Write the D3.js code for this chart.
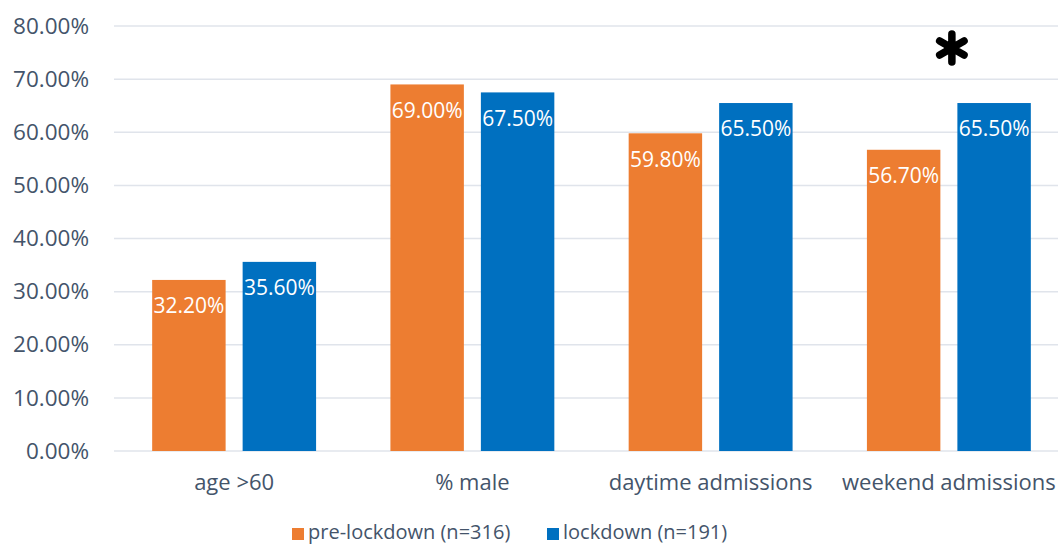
<!DOCTYPE html>
<html>
<head>
<meta charset="utf-8">
<script src="https://cdn.jsdelivr.net/npm/d3@7"></script>
<style>
  body { margin: 0; background: #fff; }
  text { font-family: "Open Sans", sans-serif; }
</style>
</head>
<body>
<div id="chart"></div>
<script>
const categories = ["age >60", "% male", "daytime admissions", "weekend admissions"];
const seriesNames = ["pre-lockdown (n=316)", "lockdown (n=191)"];
const preLockdown = [0.322, 0.69, 0.598, 0.567];
const lockdown = [0.356, 0.675, 0.655, 0.655];
const yTicks = [0, 0.1, 0.2, 0.3, 0.4, 0.5, 0.6, 0.7, 0.8];
const significant = ["weekend admissions"];

const colors = ["#ED7D31", "#0070C0"];
const textColor = "#44546A";
const W = 1058, H = 547;

const svg = d3.select("#chart").append("svg")
    .attr("width", W)
    .attr("height", H);

const x = d3.scaleBand()
    .domain(categories)
    .range([115, 1068])
    .paddingInner(0.312)
    .paddingOuter(0.156);

const xInner = d3.scaleBand()
    .domain(seriesNames)
    .range([0, x.bandwidth()])
    .paddingInner(0.188);

const y = d3.scaleLinear().domain([0, 0.8]).range([451, 26]);

// gridlines
svg.append("g")
    .selectAll("line")
    .data(yTicks)
    .join("line")
    .attr("x1", 114)
    .attr("x2", W)
    .attr("y1", d => y(d))
    .attr("y2", d => y(d))
    .attr("stroke", "#e0e4eb")
    .attr("stroke-width", 1.5);

// y axis labels
const yAxis = d3.axisLeft(y).tickValues(yTicks).tickFormat(d3.format(".2%")).tickSize(0).tickPadding(0);
svg.append("g")
    .attr("transform", "translate(89,0)")
    .call(yAxis)
    .call(g => g.select(".domain").remove())
    .selectAll("text")
    .attr("fill", textColor)
    .style("font-size", "22.5px")
    .style("font-family", "'Open Sans', sans-serif");

// x axis labels
const xAxis = d3.axisBottom(x).tickSize(0).tickPadding(0);
svg.append("g")
    .attr("transform", "translate(0,474)")
    .call(xAxis)
    .call(g => g.select(".domain").remove())
    .selectAll("text")
    .attr("fill", textColor)
    .style("font-size", "22px")
    .style("font-family", "'Open Sans', sans-serif");

// bars
const rows = categories.map((c, i) => ({ cat: c, values: [preLockdown[i], lockdown[i]] }));

const groups = svg.append("g")
    .selectAll("g")
    .data(rows)
    .join("g")
    .attr("transform", d => `translate(${x(d.cat)},0)`);

const cells = groups.selectAll("g")
    .data(d => d.values.map((v, j) => ({ series: seriesNames[j], j: j, value: v })))
    .join("g");

cells.append("rect")
    .attr("x", d => xInner(d.series))
    .attr("y", d => y(d.value))
    .attr("width", xInner.bandwidth())
    .attr("height", d => y(0) - y(d.value))
    .attr("fill", d => colors[d.j]);

cells.append("text")
    .attr("x", d => xInner(d.series) + xInner.bandwidth() / 2)
    .attr("y", d => y(d.value) + 26)
    .attr("dy", "0.35em")
    .attr("text-anchor", "middle")
    .attr("fill", "#fff")
    .style("font-size", "21px")
    .text(d => d3.format(".2%")(d.value));

// significance marker
svg.append("g")
    .selectAll("path")
    .data(significant)
    .join("path")
    .attr("transform", d => `translate(${x(d) + x.bandwidth() / 2 + 3},48)`)
    .attr("d", d3.symbol(d3.symbolAsterisk, 560))
    .attr("fill", "none")
    .attr("stroke", "#000")
    .attr("stroke-width", 7.5)
    .attr("stroke-linecap", "round");

// legend
const legendX = [292, 547];
const legend = svg.append("g")
    .selectAll("g")
    .data(seriesNames)
    .join("g")
    .attr("transform", (d, i) => `translate(${legendX[i]},532)`);

legend.append("rect")
    .attr("x", 0)
    .attr("y", -4)
    .attr("width", 12)
    .attr("height", 12)
    .attr("fill", (d, i) => colors[i]);

legend.append("text")
    .attr("x", 16)
    .attr("dy", "0.35em")
    .attr("fill", textColor)
    .style("font-size", "20px")
    .text(d => d);
</script>
</body>
</html>
